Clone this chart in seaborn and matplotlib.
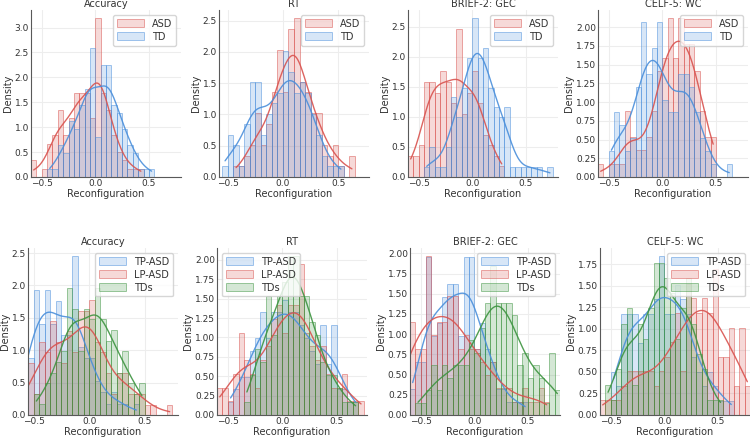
import matplotlib
matplotlib.use('Agg')
import matplotlib.pyplot as plt
from matplotlib.colors import to_rgba
import seaborn as sns
import numpy as np

# histogram grid shared by all panels
BIN_LEFT = -0.7
BIN_WIDTH = 0.05
N_BINS = 30

# counts per 0.05 bin, first bin starts at -0.7
# top row: ASD vs TD
acc_asd = [0, 0, 2, 0, 1, 4, 5, 8, 5, 7, 10, 10, 10, 7, 19, 10, 8, 5, 3, 2, 1, 1, 1]
acc_td = [0, 0, 0, 0, 0, 1, 1, 4, 3, 7, 6, 9, 11, 16, 5, 14, 14, 9, 8, 6, 4, 3, 1, 1, 1]
rt_asd = [0, 0, 0, 0, 0, 1, 1, 2, 3, 6, 3, 5, 8, 12, 8, 14, 15, 9, 8, 6, 6, 3, 2, 3, 1, 0, 2]
rt_td = [0, 0, 0, 1, 4, 3, 1, 5, 9, 9, 4, 6, 7, 8, 12, 10, 8, 9, 8, 6, 4, 2, 1, 1, 1]
gec_asd = [0, 0, 2, 2, 3, 9, 9, 8, 10, 9, 7, 14, 6, 8, 10, 7, 4, 3, 2, 1]
gec_td = [0, 0, 0, 0, 0, 1, 3, 1, 1, 3, 8, 6, 9, 12, 16, 12, 13, 9, 7, 6, 7, 1, 1, 1, 1, 1, 1, 0, 1]
wc_asd = [0, 0, 1, 0, 1, 1, 1, 5, 3, 2, 2, 3, 5, 8, 9, 12, 9, 12, 10, 10, 8, 5, 3, 3]
wc_td = [0, 0, 0, 0, 2, 5, 4, 2, 3, 7, 12, 8, 10, 12, 6, 5, 5, 8, 8, 7, 5, 3, 2, 1, 0, 0, 1]

# bottom row: TP-ASD, LP-ASD, TDs
acc_tp = [0, 1, 5, 5, 11, 8, 11, 8, 10, 7, 7, 14, 6, 5, 5, 3, 2, 1, 2, 1, 1, 0, 1]
acc_lp = [0, 0, 2, 5, 2, 7, 6, 9, 7, 5, 8, 6, 10, 10, 11, 7, 6, 4, 2, 4, 4, 2, 2, 2, 1, 1, 0, 0, 1]
acc_tds = [0, 0, 0, 0, 2, 1, 3, 4, 5, 6, 12, 10, 6, 10, 9, 12, 9, 7, 8, 4, 6, 3, 2, 3]
rt_tp = [0, 0, 0, 0, 1, 2, 3, 3, 5, 6, 8, 6, 8, 8, 9, 8, 8, 7, 6, 5, 4, 7, 4, 7, 2, 2, 1, 1]
rt_lp = [0, 0, 2, 2, 1, 3, 6, 4, 3, 2, 4, 5, 7, 8, 6, 8, 8, 11, 6, 5, 4, 5, 3, 2, 2, 3, 1, 1, 1]
rt_tds = [0, 0, 0, 0, 0, 0, 0, 1, 3, 5, 4, 9, 6, 9, 10, 12, 12, 9, 9, 7, 6, 4, 3, 3, 2, 1, 1, 1]
gec_tp = [0, 0, 2, 4, 4, 12, 6, 7, 9, 10, 10, 6, 12, 12, 5, 7, 5, 4, 2, 2, 1, 1, 1, 1]
gec_lp = [3, 5, 7, 5, 5, 12, 6, 7, 7, 9, 9, 5, 6, 5, 5, 4, 3, 4, 2, 2, 2, 1, 1, 2, 1, 1, 2, 1]
gec_tds = [0, 0, 0, 1, 1, 2, 4, 2, 4, 3, 4, 4, 4, 6, 5, 7, 9, 12, 9, 9, 9, 8, 4, 5, 3, 4, 3, 1, 5, 2]
wc_tp = [0, 0, 0, 0, 3, 2, 7, 7, 7, 5, 7, 7, 8, 11, 7, 7, 9, 8, 7, 4, 3, 2, 3, 2, 1, 1, 1]
wc_lp = [0, 0, 1, 1, 1, 1, 2, 3, 3, 3, 3, 3, 2, 3, 4, 5, 7, 3, 9, 8, 7, 8, 7, 10, 4, 4, 6, 2, 6, 2]
wc_tds = [0, 0, 0, 2, 1, 3, 6, 7, 2, 6, 5, 7, 10, 10, 9, 8, 5, 7, 9, 6, 4, 3, 1, 1, 1]

titles = ['Accuracy', 'RT', 'BRIEF-2: GEC', 'CELF-5: WC']
top_groups = ['ASD', 'TD']
bottom_groups = ['TP-ASD', 'LP-ASD', 'TDs']
top_data = [[acc_asd, acc_td], [rt_asd, rt_td], [gec_asd, gec_td], [wc_asd, wc_td]]
bottom_data = [[acc_tp, acc_lp, acc_tds], [rt_tp, rt_lp, rt_tds],
               [gec_tp, gec_lp, gec_tds], [wc_tp, wc_lp, wc_tds]]

RED = '#d9534f'
BLUE = '#4a8fdb'
GREEN = '#3d9440'
top_colors = [RED, BLUE]
bottom_colors = [BLUE, RED, GREEN]
top_xlim = [(-0.6, 0.8), (-0.58, 0.78), (-0.6, 0.8), (-0.6, 0.8)]
bottom_xlim = [(-0.55, 0.8), (-0.6, 0.78), (-0.6, 0.8), (-0.6, 0.8)]
bottom_legend_loc = ['upper right', 'upper left', 'upper right', 'upper right']

centers = BIN_LEFT + BIN_WIDTH * (np.arange(N_BINS) + 0.5)


def expand(counts):
    '''turn per-bin counts back into a sample of bin centres'''
    return np.repeat(centers[:len(counts)], counts)


def draw_panel(ax, series, names, colors, title, xlim, loc):
    for counts, name, col in zip(series, names, colors):
        sns.histplot(x=expand(counts), ax=ax, stat='density',
                     binwidth=BIN_WIDTH, binrange=(BIN_LEFT, 0.8),
                     kde=True, color=col, alpha=0.22,
                     edgecolor=to_rgba(col, 0.5), linewidth=0.7,
                     line_kws={'linewidth': 1.0, 'alpha': 0.9}, label=name)
    ax.set_xlim(*xlim)
    ax.set_xticks([-0.5, 0.0, 0.5])
    ax.set_title(title, fontsize=7, pad=2)
    ax.set_xlabel('Reconfiguration', fontsize=7, labelpad=1)
    ax.set_ylabel('Density', fontsize=7, labelpad=1)
    ax.tick_params(labelsize=6.5, length=0, pad=1.5)
    ax.legend(loc=loc, fontsize=7, handlelength=2.8, handleheight=0.9,
              borderpad=0.4, labelspacing=0.3, framealpha=0.8)
    sns.despine(ax=ax)


sns.set_style('whitegrid', {'grid.color': '0.93', 'axes.edgecolor': '0.35',
                            'axes.linewidth': 0.8, 'text.color': '0.2',
                            'axes.labelcolor': '0.2', 'xtick.color': '0.2',
                            'ytick.color': '0.2'})

W, H = 750, 437
fig = plt.figure(figsize=(7.5, 4.37), dpi=100)

top_left = [31, 219, 408, 598]
bottom_left = [28, 217, 410, 600]
for i in range(4):
    ax = fig.add_axes([top_left[i] / W, (H - 177) / H, 150 / W, 167 / H])
    draw_panel(ax, top_data[i], top_groups, top_colors, titles[i],
               top_xlim[i], 'upper right')
for i in range(4):
    ax = fig.add_axes([bottom_left[i] / W, (H - 415) / H, 150 / W, 167 / H])
    draw_panel(ax, bottom_data[i], bottom_groups, bottom_colors, titles[i],
               bottom_xlim[i], bottom_legend_loc[i])

fig.savefig('out.png', dpi=100)
